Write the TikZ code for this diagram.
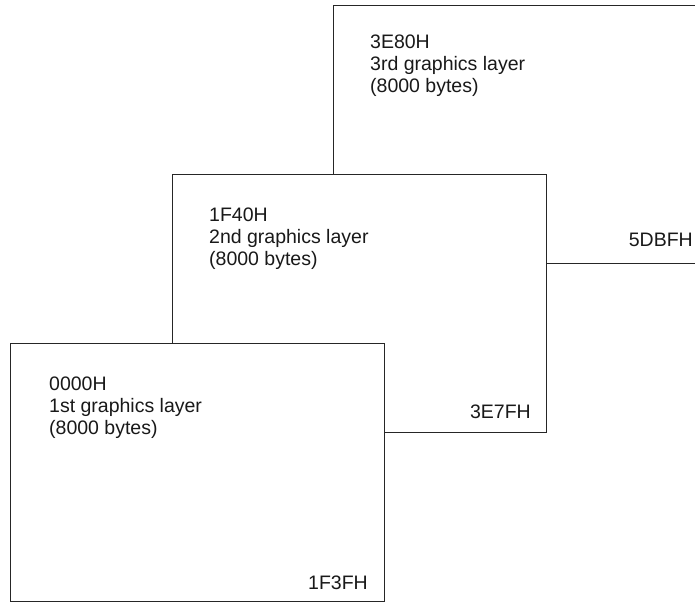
\documentclass[tikz,border=0pt]{standalone}
\usepackage{fontspec}
\setmainfont{Liberation Sans}
\begin{document}
\begin{tikzpicture}[x=1pt,y=-1pt,
  layer/.style={draw=black!85, line width=1pt, fill=white, minimum width=374pt, minimum height=258pt, anchor=north west, inner sep=0pt, outer sep=0pt},
  lbl/.style={font=\fontsize{19.5}{22}\selectfont, text=black!90, align=left, anchor=north west, inner sep=0pt},
  addr/.style={font=\fontsize{19.5}{22}\selectfont, text=black!90, anchor=base east, inner sep=0pt}]
\useasboundingbox (0,0) rectangle (695,602);
\clip (0,0) rectangle (695,602);
\node[layer] (l3) at (333,5.3) {};
\node[layer] (l2) at (172,174.3) {};
\node[layer] (l1) at (10,343.3) {};
\node[lbl] (t3) at ([shift={(37,29)}]l3.north west) {3E80H\\3rd graphics layer\\(8000 bytes)};
\node[lbl] (t2) at ([shift={(37,33.3)}]l2.north west) {1F40H\\2nd graphics layer\\(8000 bytes)};
\node[lbl] (t1) at ([shift={(39,33.7)}]l1.north west) {0000H\\1st graphics layer\\(8000 bytes)};
\node[addr] (a3) at ([shift={(-14,-17)}]l3.south east) {5DBFH};
\node[addr] (a2) at ([shift={(-15,-14)}]l2.south east) {3E7FH};
\node[addr] (a1) at ([shift={(-16,-12)}]l1.south east) {1F3FH};
\end{tikzpicture}
\end{document}
